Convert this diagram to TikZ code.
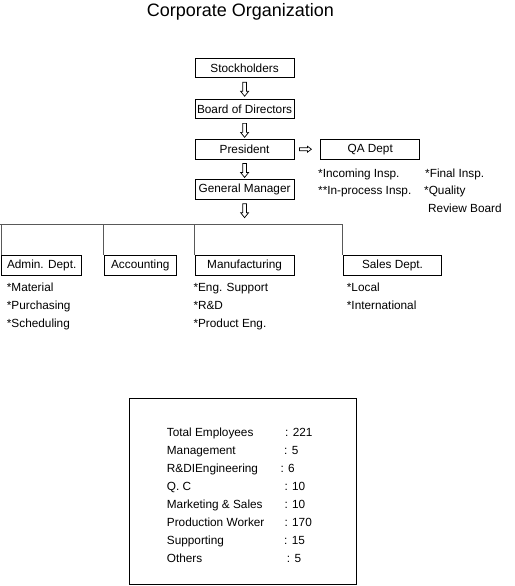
\documentclass[tikz,border=0pt]{standalone}
\usepackage{fontspec}
\setmainfont{Liberation Sans}
\usetikzlibrary{positioning}

\tikzset{
  downblock/.pic={\draw[line width=0.7pt] (-1.8,0) -- (1.8,0) -- (1.8,-9) -- (4,-9) -- (0,-14) -- (-4,-9) -- (-1.8,-9) -- cycle;},
  rightblock/.pic={\draw[line width=0.7pt] (0,-1.5) -- (0,1.5) -- (8,1.5) -- (8,3) -- (12,0) -- (8,-3) -- (8,-1.5) -- cycle;}
}

\begin{document}
\begin{tikzpicture}[
  x=1pt, y=1pt,
  node distance=20pt and 26pt,
  every node/.style={font=\fontsize{11.8}{14}\selectfont},
  box/.style={rectangle, draw, line width=0.9pt, minimum height=19.6pt, inner sep=0pt, align=center},
  item/.style={anchor=base west, inner sep=0pt},
  bus/.style={draw=black!65, line width=0.8pt}
]
  \useasboundingbox (0,0) rectangle (514,-586);

  \node[anchor=base, font=\fontsize{18}{21}\selectfont] (title) at (240.5,-17) {Corporate Organization};

  \node[box, minimum width=98.7pt] (stock) at (244.6,-68) {Stockholders};
  \node[box, minimum width=98.7pt, below=20.6pt of stock] (board) {Board of Directors};
  \node[box, minimum width=98.7pt, below=19.6pt of board] (pres) {President};
  \node[box, minimum width=98.7pt, below=19.7pt of pres] (gm) {General Manager};
  \node[box, minimum width=98.7pt, right=26pt of pres] (qa) {QA Dept};

  \coordinate[below=4pt of stock] (a1);
  \coordinate[below=4pt of board] (a2);
  \coordinate[below=4pt of pres] (a3);
  \coordinate[below=4pt of gm] (a4);
  \coordinate[right=5pt of pres] (a5);
  \pic at (a1) {downblock};
  \pic at (a2) {downblock};
  \pic at (a3) {downblock};
  \pic at (a4) {downblock};
  \pic at (a5) {rightblock};

  % QA duties
  \node[item] (qa1) at (318,-177) {*Incoming Insp.};
  \node[item] (qa2) at (318,-194.3) {**In-process Insp.};
  \node[item] (qa3) at (425,-177) {*Final Insp.};
  \node[item] (qa4) at (424,-194.3) {*Quality};
  \node[item] (qa5) at (428,-212) {Review Board};

  % departments
  \node[box, minimum width=80pt] (admin) at (41.7,-265.3) {Admin. Dept.};
  \node[box, minimum width=72.7pt] (acct) at (140.3,-265.3) {Accounting};
  \node[box, minimum width=98.7pt] (manu) at (244.6,-265.3) {Manufacturing};
  \node[box, minimum width=98.4pt] (sales) at (392.5,-265.3) {Sales Dept.};

  \coordinate (busL) at (0,-224);
  \draw[bus] (busL) -- (sales.north west |- busL) -- (sales.north west);
  \draw[bus] (admin.north west) -- (admin.north west |- busL);
  \draw[bus] (acct.north west) -- (acct.north west |- busL);
  \draw[bus] (manu.north west) -- (manu.north west |- busL);

  \node[item] (ad1) at (6.7,-291.6) {*Material};
  \node[item] (ad2) at (6.7,-309.3) {*Purchasing};
  \node[item] (ad3) at (6.7,-327) {*Scheduling};
  \node[item] (mf1) at (193.3,-291.6) {*Eng. Support};
  \node[item] (mf2) at (193.3,-309.3) {*R\&D};
  \node[item] (mf3) at (193.3,-327) {*Product Eng.};
  \node[item] (sd1) at (346.7,-291.6) {*Local};
  \node[item] (sd2) at (346.7,-309.3) {*International};

  % employee figures
  \draw[line width=0.9pt] (129.3,-398.3) rectangle (356,-584);
  \node[item] (lb1) at (166.7,-436.6) {Total Employees};
  \node[item] (lb2) at (166.7,-454.5) {Management};
  \node[item] (lb3) at (166.7,-472.4) {R\&DIEngineering};
  \node[item] (lb4) at (166.7,-490.3) {Q. C};
  \node[item] (lb5) at (166.7,-508.2) {Marketing \& Sales};
  \node[item] (lb6) at (166.7,-526.1) {Production Worker};
  \node[item] (lb7) at (166.7,-544) {Supporting};
  \node[item] (lb8) at (166.7,-562) {Others};
  \node[item] (nm1) at (285,-436.6) {: 221};
  \node[item] (nm2) at (284,-454.5) {: 5};
  \node[item] (nm3) at (280.3,-472.4) {: 6};
  \node[item] (nm4) at (284.3,-490.3) {: 10};
  \node[item] (nm5) at (284.3,-508.2) {: 10};
  \node[item] (nm6) at (284.3,-526.1) {: 170};
  \node[item] (nm7) at (284,-544) {: 15};
  \node[item] (nm8) at (286.7,-562) {: 5};
\end{tikzpicture}
\end{document}
